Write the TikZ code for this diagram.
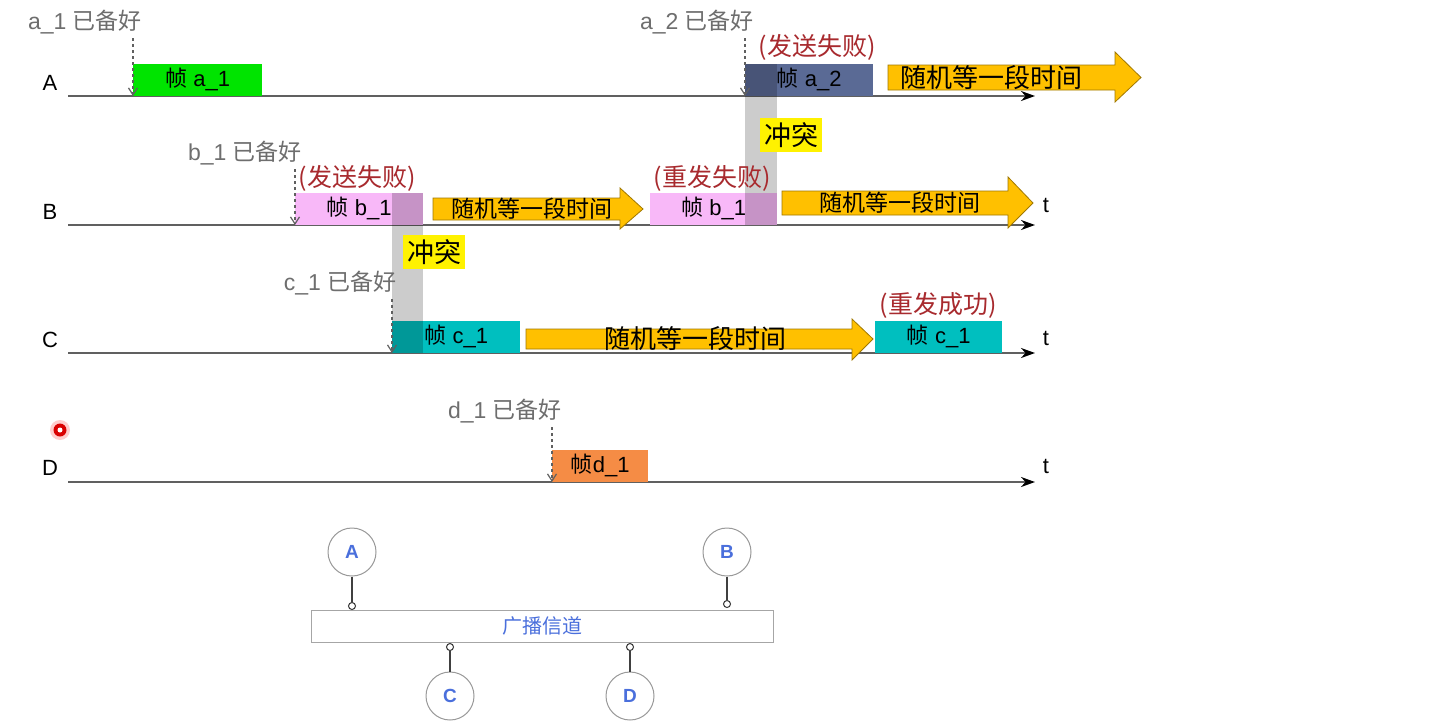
\documentclass[tikz,border=0pt]{standalone}
\usepackage{fontspec}
\setmainfont{Liberation Sans}[BoldFont={Liberation Sans Bold}]
\newfontfamily\cjk{Noto Sans CJK SC}
\usetikzlibrary{arrows.meta}
\definecolor{lblgray}{HTML}{6E6E6E}
\definecolor{linegray}{HTML}{606060}
\definecolor{failred}{HTML}{A82A2E}
\definecolor{fgreen}{HTML}{00E400}
\definecolor{fslate}{HTML}{5A6A95}
\definecolor{fpink}{HTML}{F8B8F8}
\definecolor{fteal}{HTML}{00BFBF}
\definecolor{forange}{HTML}{F58C45}
\definecolor{wfill}{HTML}{FFC000}
\definecolor{wdraw}{HTML}{A07800}
\definecolor{stblue}{HTML}{4A6FDC}
\newcommand{\fs}[1]{\fontsize{#1}{#1}\selectfont}
\newcommand{\wsz}{23}
% \waitarr{name}{x1}{xh}{tip}{ytop}{ybot}{htop}{hbot}{textx}
\newcommand{\waitarr}[9]{%
  \filldraw[waitshape] (#2,#5) -- (#3,#5) -- (#3,#7) -- (#4,{(#5+#6)/2}) -- (#3,#8) -- (#3,#6) -- (#2,#6) -- cycle;
  \node[waittext,font=\cjk\fs{\wsz}] (#1) at (#9,{(#5+#6)/2}) {随机等一段时间};}
\begin{document}
\begin{tikzpicture}[x=1pt,y=-1pt,
  timeline/.style={draw=linegray,line width=2.2pt,-{Stealth[length=14pt,width=10pt,color=black]}},
  lane/.style={font=\fs{22},text=black,inner sep=0pt},
  tlabel/.style={font=\fs{22},text=black,inner sep=0pt},
  ready/.style={font=\fs{23},text=lblgray,inner sep=0pt},
  readyarrow/.style={draw=linegray,line width=1.4pt,dash pattern=on 3pt off 3pt,-{Straight Barb[length=7pt,width=9pt,line width=1.2pt]}},
  frame/.style={anchor=south west,minimum height=32pt,inner sep=0pt,font=\fs{22},text=black},
  status/.style={font=\cjk\fs{25},text=failred,inner sep=0pt},
  collide/.style={fill=black,opacity=0.2},
  clash/.style={fill=yellow,inner sep=2pt,minimum width=62pt,minimum height=34pt,font=\cjk\fs{27},text=black},
  waitshape/.style={fill=wfill,draw=wdraw,line width=0.8pt},
  waittext/.style={text=black,inner sep=0pt},
  station/.style={circle,draw=gray!80,line width=1pt,minimum size=48pt,inner sep=0pt,font=\bfseries\fs{19},text=stblue,fill=white},
  port/.style={circle,draw=black!80,line width=1pt,minimum size=7pt,inner sep=0pt,fill=white},
  link/.style={draw=black!75,line width=1.2pt}]
\useasboundingbox[fill=white] (0,0) rectangle (1439,726);

% lane labels
\node[lane] (LA) at (50,83) {A};
\node[lane] (LB) at (50,212) {B};
\node[lane] (LC) at (50,340) {C};
\node[lane] (LD) at (50,468) {D};

% timelines
\coordinate (As) at (68,96);  \coordinate (Ae) at (1035,96);
\coordinate (Bs) at (68,225); \coordinate (Be) at (1035,225);
\coordinate (Cs) at (68,353); \coordinate (Ce) at (1035,353);
\coordinate (Ds) at (68,482); \coordinate (De) at (1035,482);
\draw[timeline] (As) -- (Ae);
\draw[timeline] (Bs) -- (Be);
\draw[timeline] (Cs) -- (Ce);
\draw[timeline] (Ds) -- (De);
\node[tlabel] (tB) at (1046,205) {t};
\node[tlabel] (tC) at (1046,338) {t};
\node[tlabel] (tD) at (1046,466) {t};

% frames
\node[frame,fill=fgreen,minimum width=129pt] (fa1) at (133,96) {{\cjk 帧} a\_1};
\node[frame,fill=fslate,minimum width=128pt] (fa2) at (745,96) {{\cjk 帧} a\_2};
\node[frame,fill=fpink,minimum width=128pt] (fb1) at (295,225) {{\cjk 帧} b\_1};
\node[frame,fill=fpink,minimum width=127pt] (fb2) at (650,225) {{\cjk 帧} b\_1};
\node[frame,fill=fteal,minimum width=128pt] (fc1) at (392,353) {{\cjk 帧} c\_1};
\node[frame,fill=fteal,minimum width=127pt] (fc2) at (875,353) {{\cjk 帧} c\_1};
\node[frame,fill=forange,minimum width=96pt] (fd1) at (552,482) {{\cjk 帧}d\_1};

% collisions
\fill[collide] (745,64) rectangle (777,225);
\fill[collide] (392,193) rectangle (423,353);
\node[clash] (k1) at (791,135) {冲突};
\node[clash] (k2) at (434,252) {冲突};

% ready labels and arrows
\node[ready] (ra1) at (85,22) {a\_1 {\cjk 已备好}};
\node[ready] (ra2) at (697,22) {a\_2 {\cjk 已备好}};
\node[ready] (rb1) at (245,153) {b\_1 {\cjk 已备好}};
\node[ready] (rc1) at (340,283) {c\_1 {\cjk 已备好}};
\node[ready] (rd1) at (505,411) {d\_1 {\cjk 已备好}};
\draw[readyarrow] (ra1.south -| fa1.west) ++(0,4) -- (fa1.south west);
\draw[readyarrow] (ra2.south -| fa2.west) ++(0,4) -- (fa2.south west);
\draw[readyarrow] (rb1.south -| fb1.west) ++(0,4) -- (fb1.south west);
\draw[readyarrow] (rc1.south -| fc1.west) ++(0,4) -- (fc1.south west);
\draw[readyarrow] (rd1.south -| fd1.west) ++(0,4) -- (fd1.south west);

% status labels
\node[status] (sa2) at (817,47) {(发送失败)};
\node[status] (sb1) at (357,178) {(发送失败)};
\node[status] (sb2) at (712,178) {(重发失败)};
\node[status] (sc2) at (938,305) {(重发成功)};

% waiting arrows
\renewcommand{\wsz}{26}
\waitarr{wA}{888}{1115}{1141}{65}{90}{52}{102}{991}
\renewcommand{\wsz}{23}
\waitarr{wB1}{433}{620}{643}{198}{220}{188}{229}{532}
\waitarr{wB2}{782}{1008}{1033}{191}{215}{177}{228}{900}
\renewcommand{\wsz}{26}
\waitarr{wC}{526}{852}{873}{329}{349}{319}{360}{695}

% red pointer dot
\fill[red!20] (60,430) circle (10);
\fill[red!85!black] (60,430) circle (6.5);
\fill[white] (60,430) circle (2.5);

% broadcast channel
\node[draw=gray!70,line width=1pt,minimum width=462pt,minimum height=32pt,inner sep=0pt,font=\cjk\fs{20},text=stblue] (ch) at (542,626) {广播信道};
\node[station] (sA) at (352,552) {A};
\node[station] (sB) at (727,552) {B};
\node[station] (sC) at (450,696) {C};
\node[station] (sD) at (630,696) {D};
\node[port] (pA) at (352,606) {};
\node[port] (pB) at (727,604) {};
\node[port] (pC) at (450,647) {};
\node[port] (pD) at (630,647) {};
\draw[link] (sA) -- (pA);
\draw[link] (sB) -- (pB);
\draw[link] (pC) -- (sC);
\draw[link] (pD) -- (sD);
\end{tikzpicture}
\end{document}
